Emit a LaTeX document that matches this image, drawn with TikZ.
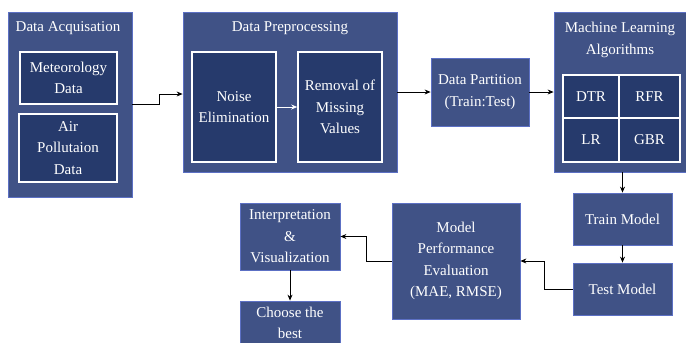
\documentclass[tikz,border=0pt]{standalone}
\usepackage{fontspec}
\setmainfont{Liberation Serif}
\usetikzlibrary{arrows.meta,calc}
\definecolor{outerfill}{RGB}{64,82,134}
\definecolor{outerline}{RGB}{92,112,196}
\definecolor{innerfill}{RGB}{38,58,108}
\begin{document}
\begin{tikzpicture}[x=1pt,y=-1pt,
  every node/.style={text=white,font=\fontsize{15}{21.5}\selectfont,inner sep=0pt,align=center},
  outer/.style={draw=outerline,line width=0.8pt,fill=outerfill,rectangle},
  inner/.style={draw=white,line width=1.6pt,fill=innerfill,rectangle},
  arr/.style={draw=black,line width=0.8pt,-{Stealth[length=6pt,width=5pt]}},
  warr/.style={draw=white,line width=0.8pt,-{Stealth[length=6pt,width=5pt]}}]
\useasboundingbox (0,0) rectangle (686,343);
\fill[white] (0,0) rectangle (686,343);
% Data Acquisation
\node[outer,minimum width=124pt,minimum height=185pt] (acq) at (70,104.5) {};
\node (acqt) at (68,28) {Data Acquisation};
\node[inner,minimum width=97pt,minimum height=52pt] (met) at (68.5,78) {Meteorology\\Data};
\node[inner,minimum width=98pt,minimum height=68pt] (air) at (68,148) {Air\\Pollutaion\\Data};
% Data Preprocessing
\node[outer,minimum width=214pt,minimum height=160pt] (prep) at (290,92) {};
\node (prept) at (290,28) {Data Preprocessing};
\node[inner,minimum width=84pt,minimum height=110pt] (noise) at (234,107) {Noise\\Elimination};
\node[inner,minimum width=84pt,minimum height=110pt] (rem) at (340,107) {Removal of\\Missing\\Values};
% Data Partition
\node[outer,minimum width=98pt,minimum height=68pt] (part) at (480,92) {Data Partition\\(Train:Test)};
% ML
\node[outer,minimum width=132pt,minimum height=160pt] (ml) at (620,92) {};
\node (mlt) at (620,40) {Machine Learning\\Algorithms};
\node[inner,minimum width=56pt,minimum height=43pt] (dtr) at (591,96.5) {DTR};
\node[inner,minimum width=61pt,minimum height=43pt] (rfr) at (649.5,96.5) {RFR};
\node[inner,minimum width=56pt,minimum height=44pt] (lr) at (591,140) {LR};
\node[inner,minimum width=61pt,minimum height=44pt] (gbr) at (649.5,140) {GBR};
% Train / Test
\node[outer,minimum width=99pt,minimum height=52pt] (train) at (622.5,219) {Train Model};
\node[outer,minimum width=99pt,minimum height=52pt] (test) at (622.5,289) {Test Model};
% MPE
\node[outer,minimum width=128pt,minimum height=116pt] (mpe) at (456,261) {Model\\Performance\\Evaluation\\(MAE, RMSE)};
% Interpretation
\node[outer,minimum width=100pt,minimum height=67pt] (interp) at (290,236.5) {Interpretation\\\&\\Visualization};
\node[outer,minimum width=100pt,minimum height=56pt] (choose) at (290,329) {};
\node (chooset) at (290,323) {Choose the\\best};
% connectors
\draw[arr] (acq.east) -- ++(27,0) |- ([yshift=-2pt]prep.west);
\draw[warr] (noise.east) -- (rem.west);
\draw[arr] (prep.east) -- (part.west);
\draw[arr] (part.east) -- (ml.west);
\draw[arr] (train.north |- ml.south) -- (train.north);
\draw[arr] (train.south) -- (test.north);
\draw[arr] (test.west) -- ++(-28,0) |- (mpe.east);
\draw[arr] (mpe.west) -- ++(-25,0) |- (interp.east);
\draw[arr] (interp.south) -- (choose.north);
\end{tikzpicture}
\end{document}
